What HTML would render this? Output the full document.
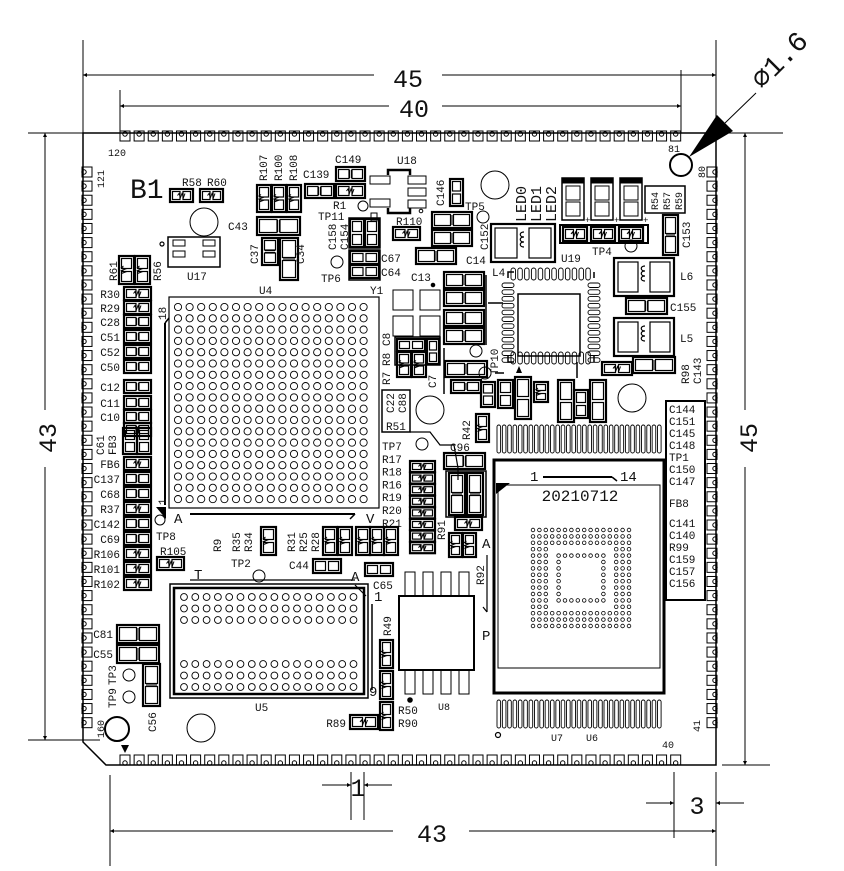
<!DOCTYPE html>
<html><head><meta charset="utf-8">
<style>
html,body{margin:0;padding:0;background:#fff;}
svg{display:block;}
text{font-family:"Liberation Mono","DejaVu Sans Mono",monospace;fill:#111;}
</style></head>
<body>
<svg id="s" width="844" height="871" viewBox="0 0 844 871" xmlns="http://www.w3.org/2000/svg">
<defs>
<marker id="ar" viewBox="0 0 10 10" refX="10" refY="5" markerWidth="9" markerHeight="4" orient="auto-start-reverse" markerUnits="userSpaceOnUse"><path d="M0,0 L10,5 L0,10 z" fill="#000"/></marker>
</defs>
<g id="g" stroke="#000" fill="none"></g>
</svg>
<script>
var g=document.getElementById('g');var NS='http://www.w3.org/2000/svg';
function el(t,a,txt){var e=document.createElementNS(NS,t);for(var k in a)e.setAttribute(k,a[k]);if(txt!==undefined)e.textContent=txt;g.appendChild(e);return e;}
function L(x1,y1,x2,y2,w,extra){var a={x1:x1,y1:y1,x2:x2,y2:y2,'stroke-width':w||1};if(extra)for(var k in extra)a[k]=extra[k];return el('line',a);}
function R(x,y,w,h,sw,fill){return el('rect',{x:x,y:y,width:w,height:h,'stroke-width':sw||1,fill:fill||'none'});}
function C(x,y,r,sw){return el('circle',{cx:x,cy:y,r:r,'stroke-width':sw||1});}
function T(x,y,s,size,rot,anchor,fam){var a={x:x,y:y,'font-size':size||11,stroke:'none','text-anchor':anchor||'start'};if(rot)a.transform='rotate('+rot+' '+x+' '+y+')';if(fam)a['font-family']=fam;return el('text',a,s);}
function P(x,y,w,h,kind){R(x,y,w,h,2.2);
 if(w>=h){var pw=(w-6)/2;R(x+2.5,y+2.5,pw-1,h-5,1.2);R(x+w-2.5-pw+1,y+2.5,pw-1,h-5,1.2);
  if(kind=='r'){el('path',{d:'M'+(x+w/2-4)+','+(y+h/2)+' l1.5,-2 l1.5,4 l1.5,-4 l1.5,4 l1.5,-4',  'stroke-width':1});}
  else if(kind=='c'){L(x+w/2-1,y+3,x+w/2-1,y+h-3,1.2);L(x+w/2+1,y+3,x+w/2+1,y+h-3,1.2);} }
 else {var ph=(h-6)/2;R(x+2.5,y+2.5,w-5,ph-1,1.2);R(x+2.5,y+h-2.5-ph+1,w-5,ph-1,1.2);
  if(kind=='r'){el('path',{d:'M'+(x+w/2-3)+','+(y+h/2-4)+' l-2,1.5 l4,1.5 l-4,1.5 l4,1.5 l-4,1.5',  'stroke-width':1});}
  else if(kind=='c'){L(x+3,y+h/2-1,x+w-3,y+h/2-1,1.2);L(x+3,y+h/2+1,x+w-3,y+h/2+1,1.2);} } }

el('path',{d:'M83,133 L716,133 L716,765 L106,765 L83,742 Z','stroke-width':1.5});
var p=14.12;
for(var i=0;i<40;i++){var x=125+i*p;R(x-5,131,10,10,1);C(x,134,2.2,1);}
for(var i=0;i<40;i++){var x=125+i*p;R(x-5,755,10,10,1);C(x,763,2.2,1);}
for(var i=0;i<40;i++){var y=172+i*p;R(82,y-5,10,10,1);C(84,y,2.2,1);}
for(var i=0;i<40;i++){var y=172+i*p;R(707,y-5,10,10,1);C(715,y,2.2,1);}
T(108,156,'120',10);T(104,188,'121',10,-90);T(104,738,'160',10,-90);T(668,152,'81',10);T(705,178,'80',10,-90);T(700,732,'41',10,-90);T(662,748,'40',10);
el('path',{d:'M121,745 L129,745 L125,753 Z',fill:'#000',stroke:'none'});

L(83,40,83,133,1);L(716,40,716,133,1);L(120,90,120,133,1);L(681,70,681,133,1);
L(83,75,374,75,1,{'marker-start':'url(#ar)'});L(442,75,716,75,1,{'marker-end':'url(#ar)'});T(408,87,'45',25,0,'middle');
L(120,106,389,106,1,{'marker-start':'url(#ar)'});L(442,106,681,106,1,{'marker-end':'url(#ar)'});T(414,117,'40',25,0,'middle');
L(28,133,83,133,1);L(28,740,100,740,1);
L(45,133,45,410,1,{'marker-start':'url(#ar)'});L(45,467,45,740,1,{'marker-end':'url(#ar)'});T(56,438,'43',25,-90,'middle');
L(716,133,783,133,1);L(722,765,770,765,1);
L(745,133,745,410,1,{'marker-start':'url(#ar)'});L(745,467,745,765,1,{'marker-end':'url(#ar)'});T(757,438,'45',25,-90,'middle');
L(351,772,351,820,1);L(364,772,364,820,1);
L(322,785,351,785,1,{'marker-end':'url(#ar)'});L(392,785,364,785,1,{'marker-end':'url(#ar)'});T(358,796,'1',25,0,'middle');
L(674,772,674,838,1);L(716,772,716,866,1);
L(646,803,674,803,1,{'marker-end':'url(#ar)'});L(744,803,716,803,1,{'marker-end':'url(#ar)'});T(697,814,'3',25,0,'middle');
L(110,775,110,866,1);L(110,831,393,831,1,{'marker-start':'url(#ar)'});L(469,831,716,831,1,{'marker-end':'url(#ar)'});T(432,842,'43',25,0,'middle');
C(681,165,11,2);
el('path',{d:'M689,157 L717,115 L733,131 Z',fill:'#000',stroke:'none'});
L(725,123,756,93,1);
T(762,90,'∅1.6',28,-45,'start');

C(204,222,14,1);C(201,728,14,1);C(117,729,12,2);C(495,185,14,1);C(430,410,14,1);C(632,398,14,1);
T(130,198,'B1',28,0,'start','"Liberation Serif",serif');

R(169,297,210,211,1.2);
for(var r=0;r<18;r++)for(var c=0;c<17;c++)C(178+c*11.6,307+r*11.3,3.6,0.9);
T(259,294,'U4',11);T(370,294,'Y1',11);
T(166,320,'18',11,-90);L(165,323,165,505,2);L(165,323,169,318,1.5);
T(166,505,'1',11,-90);el('path',{d:'M156,507 L166,507 L166,519 Z',fill:'#000',stroke:'none'});C(160,520,5,1);
T(174,523,'A',14);L(190,514,355,514,2);L(355,514,350,519,1.5);T(366,523,'V',14);

R(170,584,198,114,1.5);R(174,588,190,106,2.5);
for(var r=0;r<3;r++)for(var c=0;c<16;c++){C(184+c*11.3,597+r*11.5,3.4,0.9);C(184+c*11.3,664+r*11.5,3.4,0.9);}
L(355,585,366,596,1.2);
T(194,579,'T',14);L(190,580,355,580,1.2);T(351,581,'A',14);T(374,601,'1',14);T(369,696,'9',14);L(372,604,372,690,1.5);
T(255,711,'U5',11);C(259,576,6,1);T(231,567,'TP2',11);

R(494,460,170,233,3);R(498,485,162,183,1);
el('path',{d:'M496,483 L510,483 L496,494 Z',fill:'#000',stroke:'none'});
for(var i=0;i<31;i++){var x=497+i*5.35;el('rect',{x:x,y:425,width:3.6,height:28,rx:1.8,'stroke-width':0.9});el('rect',{x:x,y:700,width:3.6,height:28,rx:1.8,'stroke-width':0.9});}
T(530,481,'1',14);L(543,477,612,477,2);L(612,477,617,481,1.5);T(620,481,'14',14);
T(580,501,'20210712',16,0,'middle');
for(var r=0;r<16;r++)for(var c=0;c<16;c++){var inner=(r>=3&&r<=12&&c>=3&&c<=12);var ring=(r==4||r==11)&&(c>=4&&c<=11)||(c==4||c==11)&&(r>=4&&r<=11);
 if(!inner||ring) C(533+c*6.4,530+r*6.4,1.8,0.8);}
C(498,735,2.5,1.2);T(551,741,'U7',10);T(586,741,'U6',10);
R(666,401,39,199,2);
var rl=['C144','C151','C145','C148','TP1','C150','C147','','FB8','','C141','C140','R99','C159','C157','C156'];
var ry=[413,425,437,449,461,473,485,0,507,0,527,539,551,563,575,587];
for(var i=0;i<rl.length;i++)if(rl[i])T(669,ry[i],rl[i],11);

R(399,596,75,74,2);
for(var i=0;i<4;i++){R(405+i*18,572,10,24,1);R(405+i*18,670,10,24,1);}
el('circle',{cx:410,cy:700,r:2.3,fill:'#000'});T(438,710,'U8',10);
L(487,555,487,612,1.2);L(487,612,483,607,1.2);T(482,548,'A',14);T(482,640,'P',14);T(484,585,'R92',11,-90);

R(518,294,62,62,1.5);
el('path',{d:'M508,278 L508,272 L514,272 M594,278 L594,272 M508,356 L508,362 L514,362 M594,356 L594,362','stroke-width':1.5});
for(var i=0;i<12;i++){var v=511+i*6.8;el('rect',{x:v,y:268,width:4.5,height:12,rx:2.2,'stroke-width':0.9});el('rect',{x:v,y:352,width:4.5,height:12,rx:2.2,'stroke-width':0.9});}
for(var i=0;i<12;i++){var v=283+i*6.8;el('rect',{x:502,y:v,width:12,height:4.5,rx:2.2,'stroke-width':0.9});el('rect',{x:588,y:v,width:12,height:4.5,rx:2.2,'stroke-width':0.9});}
T(561,262,'U19',11);
function IND(x,y,w,h){R(x,y,w,h,2.2);R(x+4,y+4,w/2-10,h-8,1.2);R(x+w/2+6,y+4,w/2-10,h-8,1.2);
 el('path',{d:'M'+(x+w/2+1)+','+(y+8)+' c-5,0 -5,5 0,5 c-5,0 -5,5 0,5 c-5,0 -5,5 0,5','stroke-width':1.2});}
IND(491,224,64,38);T(492,276,'L4',11);
IND(614,258,60,38);T(680,280,'L6',11);
IND(614,318,60,38);T(680,342,'L5',11);
P(626,298,41,16,'c');T(670,311,'C155',11);
T(526,222,'LED0',15,-90);T(541,222,'LED1',15,-90);T(556,222,'LED2',15,-90);
for(var i=0;i<3;i++){var x=562+i*29;R(x,178,22,42,1.5);R(x,178,22,5,0,'#000');R(x+4,186,14,14,1);R(x+4,202,14,14,1);T(x+23,223,'+',9);}
R(560,225,88,18,2);for(var i=0;i<3;i++)P(563+i*28,227,24,14,'r');
C(631,246,6,1);T(592,255,'TP4',11);
R(645,186,40,27,1.5);T(658,210,'R54',10,-90);T(670,210,'R57',10,-90);T(682,210,'R59',10,-90);
P(663,215,15,40,'c');T(690,248,'C153',11,-90);
P(602,362,30,13,'r');P(633,357,42,16,'c');T(689,384,'R98',11,-90);T(701,384,'C143',11,-90);

for(var i=0;i<3;i++){P(257+i*15,185,14,27,'r');}
T(267,181,'R107',11,-90);T(282,181,'R100',11,-90);T(297,181,'R108',11,-90);
P(305,184,29,14,'c');T(303,178,'C139',11);
P(336,167,29,14,'c');T(335,163,'C149',11);
P(336,184,29,14,'r');T(333,209,'R1',11);C(363,206,5,1);T(318,220,'TP11',11);
P(257,217,43,18,'c');T(228,230,'C43',11);
P(262,238,16,27,'c');P(280,238,18,42,'c');T(258,264,'C37',11,-90);T(304,264,'C34',11,-90);
T(336,250,'C158',11,-90);T(348,250,'C154',11,-90);
R(349,218,31,30,1.5);P(350,219,14,28);P(365,219,14,28);
R(349,250,31,30,1.5);P(350,251,29,13);P(350,265,29,13);
C(337,262,6,1);T(321,282,'TP6',11);
T(381,262,'C67',11);T(381,276,'C64',11);
T(397,164,'U18',11);
el('path',{d:'M388,175 L388,170 L410,170 L410,175 M388,208 L388,213 L410,213 L410,208','stroke-width':2.5});
R(370,176,20,8,1);R(370,199,20,8,1);R(408,176,18,8,1);R(408,188,18,8,1);R(408,200,18,8,1);C(421,211,1.8,1);
R(371,213,6,8,1);
P(450,179,13,27);T(444,206,'C146',11,-90);
T(465,210,'TP5',11);C(483,217,6,1);
P(393,227,27,13,'r');T(396,225,'R110',11);
P(432,212,40,16,'c');P(432,230,40,16,'c');T(488,250,'C152',11,-90);
P(416,248,40,16,'c');T(466,264,'C14',11);T(411,281,'C13',11);
el('circle',{cx:433,cy:285,r:1.8,fill:'#000'});
R(393,290,20,20,1);R(420,290,20,20,1);R(393,316,20,20,1);R(420,316,20,20,1);
P(444,272,40,16,'c');P(444,290,40,16,'c');P(444,310,40,16,'c');P(444,328,40,16,'c');
L(444,348,444,394,1.5);L(486,275,486,345,1.5);L(488,303,503,303,1.5);
P(445,361,42,16,'c');P(451,380,30,13,'c');C(476,351,6,1);C(485,373,6,1);T(498,375,'TP10',11,-90);
R(395,337,45,28,1.5);P(397,339,28,12);P(427,339,12,25);P(397,352,14,25,'r');P(412,352,14,25,'r');
T(390,346,'C8',11,-90);T(390,366,'R8',11,-90);T(390,385,'R7',11,-90);T(436,388,'C7',11,-90);
P(481,382,14,25);P(498,380,15,28);P(515,377,16,42);P(534,382,14,20,'r');
el('path',{d:'M516,373 L522,373 L519,366 Z',fill:'#000',stroke:'none'});
P(558,380,16,42);P(574,390,14,28);P(590,380,16,42);
L(495,373,504,373,1.5);L(577,362,577,378,1.5);
R(382,390,28,42,1.5);T(394,413,'C22',11,-90);T(406,413,'C88',11,-90);T(386,430,'R51',11);
el('path',{d:'M410,432 L430,432 L440,445 L454,445 L458,468 L458,480','stroke-width':1.2});
P(476,414,13,28,'r');T(470,440,'R42',11,-90);
P(444,453,41,16,'c');T(450,451,'C96',11);
C(422,444,6,1);
var rl2=['TP7','R17','R18','R16','R19','R20','R21'];for(var i=0;i<rl2.length;i++)T(382,450+i*12.8,rl2[i],11);
for(var i=0;i<8;i++)P(410,461+i*11.6,25,11,'r');
R(446,471,40,46,1.5);P(449,473,16,42,'c');P(467,473,16,42,'c');P(455,517,27,13,'r');T(445,540,'R91',11,-90);
P(449,533,13,24,'r');P(463,533,13,24,'r');

P(119,256,15,28,'r');P(135,256,15,28,'r');T(117,281,'R61',11,-90);T(161,281,'R56',11,-90);
var lc=[['R30',287,'r'],['R29',301,'r'],['C28',315,'c'],['C51',330,'c'],['C52',345,'c'],['C50',360,'c'],['C12',380,'c'],['C11',396,'c'],['C10',410,'c']];
for(var i=0;i<lc.length;i++){P(124,lc[i][1],27,13,lc[i][2]);T(120,lc[i][1]+11,lc[i][0],11,0,'end');}
P(124,423,27,13,'c');
P(123,428,14,26);P(137,428,14,26);T(104,455,'C61',11,-90);T(116,455,'FB3',11,-90);
var lc2=[['FB6',457,'r'],['C137',472,'c'],['C68',487,'c'],['R37',502,'r'],['C142',517,'c'],['C69',532,'c'],['R106',547,'r'],['R101',562,'r'],['R102',577,'r']];
for(var i=0;i<lc2.length;i++){P(124,lc2[i][1],27,13,lc2[i][2]);T(120,lc2[i][1]+11,lc2[i][0],11,0,'end');}
T(156,540,'TP8',11);
P(157,557,27,13,'r');T(160,555,'R105',11);
P(117,625,42,18,'c');T(113,638,'C81',11,0,'end');P(117,645,42,18,'c');T(113,658,'C55',11,0,'end');
C(129,675,6,1);C(129,697,6,1);T(116,685,'TP3',11,-90);T(116,708,'TP9',11,-90);
P(143,664,17,42,'c');T(156,732,'C56',11,-90);
C(162,244,2,1.2);R(168,237,52,30,1.5);R(173,240,12,6,1);R(173,251,12,6,1);R(203,240,12,6,1);R(203,251,12,6,1);T(187,280,'U17',11);
P(170,189,23,13,'r');P(200,189,23,13,'r');T(182,186,'R58',11);T(207,186,'R60',11);

T(221,552,'R9',11,-90);T(240,552,'R35',11,-90);T(252,552,'R34',11,-90);
P(261,527,15,28,'r');
T(295,552,'R31',11,-90);T(307,552,'R25',11,-90);T(319,552,'R28',11,-90);
P(323,527,14,28,'r');P(338,527,14,28,'r');P(356,527,14,28,'r');P(370,527,14,28,'r');P(384,527,14,28,'r');
P(313,559,28,14);T(289,569,'C44',11);P(365,563,28,13);T(373,589,'C65',11);
P(380,640,13,28,'r');P(380,671,13,28,'r');P(380,702,13,28,'r');
T(391,636,'R49',11,-90);T(398,714,'R50',11);T(398,727,'R90',11);
P(350,715,28,14,'r');T(346,727,'R89',11,0,'end');
</script>
</body></html>
